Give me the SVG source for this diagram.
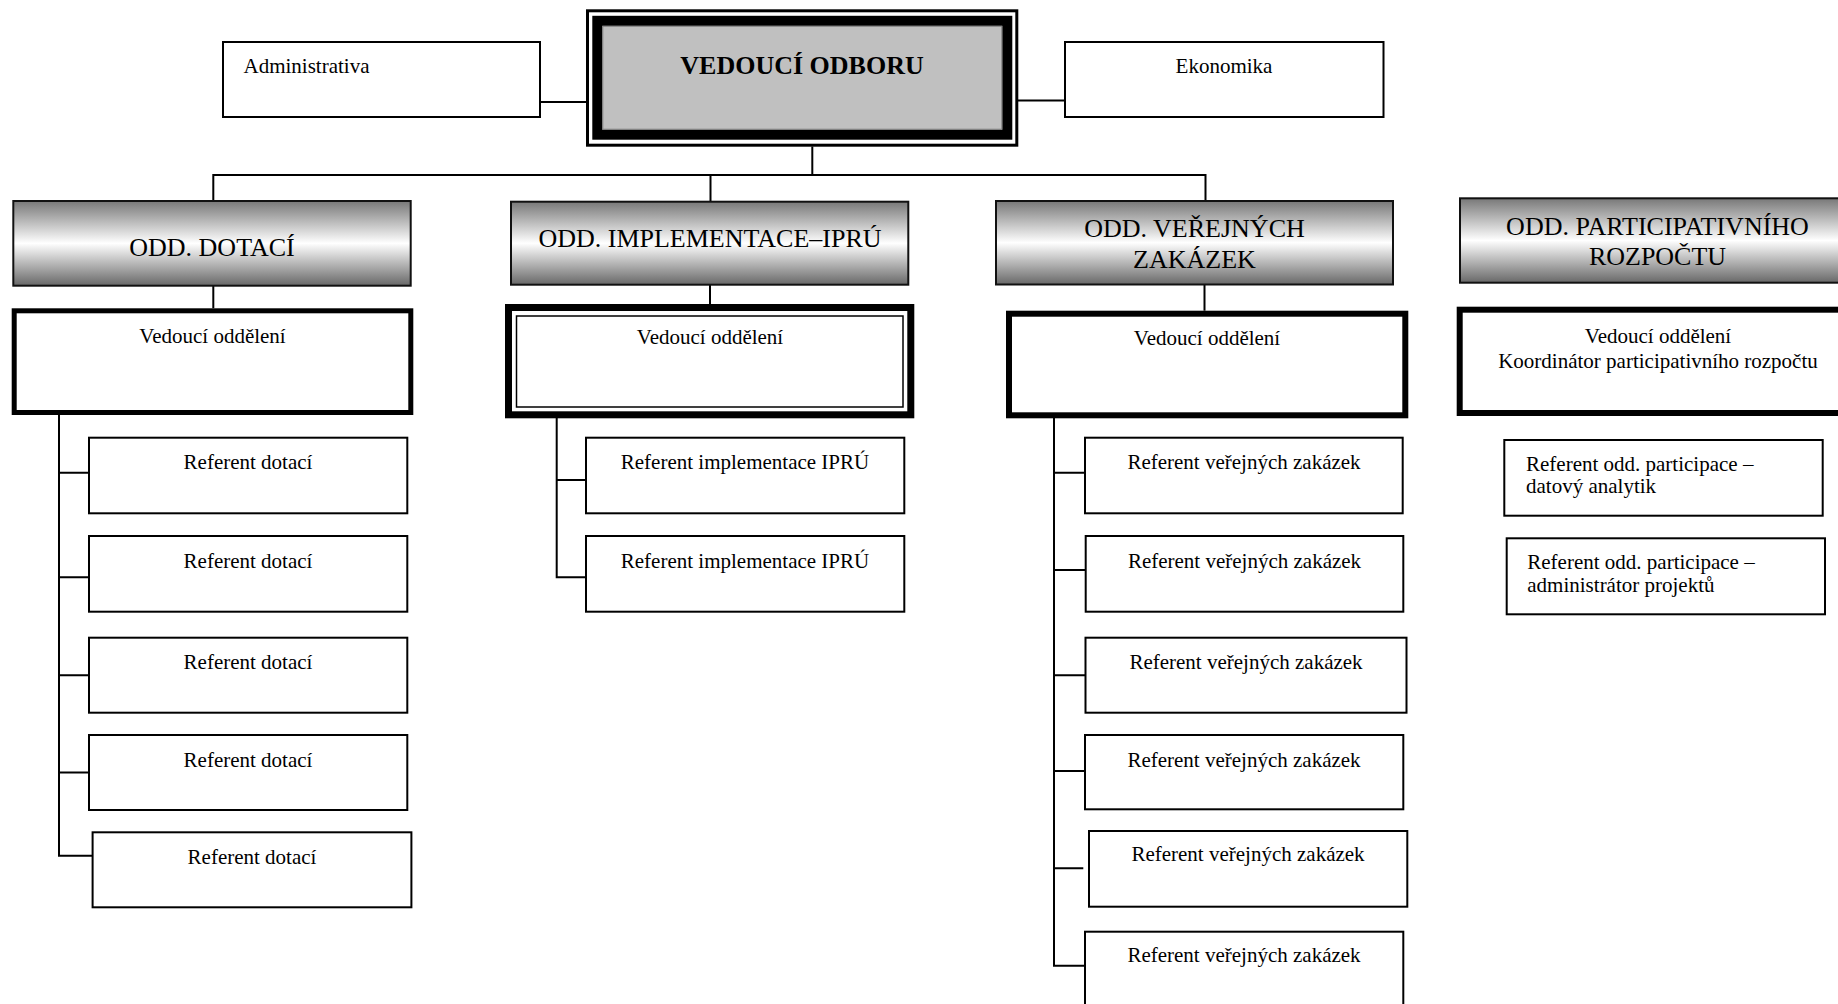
<svg xmlns="http://www.w3.org/2000/svg" width="1838" height="1004" viewBox="0 0 1838 1004">
<defs>
<linearGradient id="hg" x1="0" y1="0" x2="0" y2="1">
<stop offset="0" stop-color="#787878"/>
<stop offset="0.5" stop-color="#ffffff"/>
<stop offset="1" stop-color="#686868"/>
</linearGradient>
</defs>
<style>
.box{fill:#fff;stroke:#000;stroke-width:2}
.hdr{fill:url(#hg);stroke:#111;stroke-width:2}
.t{font-family:"Liberation Serif","Times New Roman",serif;font-size:21px;fill:#000}
.c{text-anchor:middle}
.h{font-size:26px}
.b{font-weight:bold;font-size:26px}
.ln{stroke:#000;stroke-width:2;fill:none}
</style>
<rect width="1838" height="1004" fill="#fff"/>

<g id="connectors">
<path class="ln" d="M540 102 H586"/>
<path class="ln" d="M1018 100.5 H1065"/>
<path class="ln" d="M812.3 146.5 V175"/>
<path class="ln" stroke-width="2.5" d="M213.3 201 V175 H1205.5 V201"/>
<path class="ln" d="M710.5 175 V201.7"/>
<path class="ln" d="M213.3 285.7 V308.3"/>
<path class="ln" d="M710 284.7 V304"/>
<path class="ln" d="M1204.5 284.5 V310.7"/>
<path class="ln" d="M59 415 V855.7 H92.6 M59 472.7 H89 M59 577.3 H89 M59 675.2 H89 M59 772.5 H89"/>
<path class="ln" d="M556.7 418 V577.3 H586 M556.7 480 H586"/>
<path class="ln" d="M1054 418 V965.7 H1085 M1054 472.7 H1085 M1054 570 H1085.7 M1054 675.2 H1085.5 M1054 771 H1085 M1054 868.3 H1083.3"/>
</g>

<g id="vedouci-odboru">
<rect x="587.5" y="10.8" width="429.3" height="134.4" fill="#fff" stroke="#000" stroke-width="3"/>
<rect x="597.3" y="20.8" width="410" height="113.9" fill="#c0c0c0" stroke="#000" stroke-width="10"/>
<rect x="602.8" y="26.3" width="399" height="102.9" fill="none" stroke="#808080" stroke-width="1"/>
<text class="t b c" x="802" y="74">VEDOUCÍ ODBORU</text>
</g>

<g id="administrativa">
<rect class="box" x="223" y="42" width="317" height="75"/>
<text class="t" x="243.5" y="72.7">Administrativa</text>
</g>

<g id="ekonomika">
<rect class="box" x="1065" y="42" width="318.5" height="75"/>
<text class="t c" x="1224" y="72.7">Ekonomika</text>
</g>

<g id="odd-dotaci">
<rect class="hdr" x="13.3" y="201" width="397.4" height="84.7"/>
<text class="t h c" x="212" y="256">ODD. DOTACÍ</text>
</g>

<g id="odd-implementace">
<rect class="hdr" x="511" y="201.7" width="397.3" height="83"/>
<text class="t h c" x="710" y="246.5">ODD. IMPLEMENTACE–IPRÚ</text>
</g>

<g id="odd-verejnych-zakazek">
<rect class="hdr" x="996" y="201" width="397" height="83.5"/>
<text class="t h c" x="1194.5" y="237">ODD. VEŘEJNÝCH</text>
<text class="t h c" x="1194.5" y="268">ZAKÁZEK</text>
</g>

<g id="odd-participativniho">
<rect class="hdr" x="1460" y="198.3" width="400" height="84.4"/>
<text class="t h c" x="1657.5" y="235">ODD. PARTICIPATIVNÍHO</text>
<text class="t h c" x="1657.5" y="265">ROZPOČTU</text>
</g>

<g id="vedouci-dotaci">
<rect x="14.2" y="310.8" width="396.6" height="101.7" fill="#fff" stroke="#000" stroke-width="5"/>
<text class="t c" x="212.5" y="342.7">Vedoucí oddělení</text>
</g>

<g id="vedouci-implementace">
<rect x="508.5" y="307.5" width="402.3" height="107.3" fill="#fff" stroke="#000" stroke-width="7"/>
<rect x="516.5" y="316" width="386.5" height="91" fill="none" stroke="#000" stroke-width="1.5"/>
<text class="t c" x="710" y="344.3">Vedoucí oddělení</text>
</g>

<g id="vedouci-zakazek">
<rect x="1009" y="313.7" width="396.3" height="101.6" fill="#fff" stroke="#000" stroke-width="6"/>
<text class="t c" x="1207" y="345">Vedoucí oddělení</text>
</g>

<g id="vedouci-participace">
<rect x="1459.7" y="309.7" width="400" height="103.3" fill="#fff" stroke="#000" stroke-width="6"/>
<text class="t c" x="1658" y="343.3">Vedoucí oddělení</text>
<text class="t c" x="1658" y="367.5">Koordinátor participativního rozpočtu</text>
</g>

<g id="ref-dotaci-1"><rect class="box" x="89" y="437.7" width="318.3" height="75.6"/><text class="t c" x="248" y="469.3">Referent dotací</text></g>
<g id="ref-dotaci-2"><rect class="box" x="89" y="536" width="318.3" height="75.7"/><text class="t c" x="248" y="567.6">Referent dotací</text></g>
<g id="ref-dotaci-3"><rect class="box" x="89" y="637.7" width="318.3" height="75"/><text class="t c" x="248" y="669.3">Referent dotací</text></g>
<g id="ref-dotaci-4"><rect class="box" x="89" y="735" width="318.3" height="75"/><text class="t c" x="248" y="766.6">Referent dotací</text></g>
<g id="ref-dotaci-5"><rect class="box" x="92.6" y="832.3" width="318.8" height="75"/><text class="t c" x="252" y="863.9">Referent dotací</text></g>

<g id="ref-ipru-1"><rect class="box" x="586" y="437.7" width="318.3" height="75.6"/><text class="t c" x="745" y="469.3">Referent implementace IPRÚ</text></g>
<g id="ref-ipru-2"><rect class="box" x="586" y="536" width="318.3" height="75.7"/><text class="t c" x="745" y="567.6">Referent implementace IPRÚ</text></g>

<g id="ref-vz-1"><rect class="box" x="1085" y="437.7" width="317.7" height="75.6"/><text class="t c" x="1244" y="469.3">Referent veřejných zakázek</text></g>
<g id="ref-vz-2"><rect class="box" x="1085.7" y="536" width="317.6" height="75.7"/><text class="t c" x="1244.5" y="567.6">Referent veřejných zakázek</text></g>
<g id="ref-vz-3"><rect class="box" x="1085.5" y="637.7" width="321" height="75"/><text class="t c" x="1246" y="669.3">Referent veřejných zakázek</text></g>
<g id="ref-vz-4"><rect class="box" x="1085" y="735" width="318.3" height="74.3"/><text class="t c" x="1244" y="766.6">Referent veřejných zakázek</text></g>
<g id="ref-vz-5"><rect class="box" x="1089" y="831" width="318.3" height="75.7"/><text class="t c" x="1248" y="861">Referent veřejných zakázek</text></g>
<g id="ref-vz-6"><rect class="box" x="1085" y="931.7" width="318.3" height="100"/><text class="t c" x="1244" y="961.7">Referent veřejných zakázek</text></g>

<g id="ref-part-1"><rect class="box" x="1504.3" y="440" width="318.4" height="75.7"/><text class="t" x="1526" y="470.7">Referent odd. participace –</text><text class="t" x="1526" y="493.3">datový analytik</text></g>
<g id="ref-part-2"><rect class="box" x="1506.7" y="538.3" width="318.3" height="76"/><text class="t" x="1527.3" y="569.3">Referent odd. participace –</text><text class="t" x="1527.3" y="591.7">administrátor projektů</text></g>
</svg>
